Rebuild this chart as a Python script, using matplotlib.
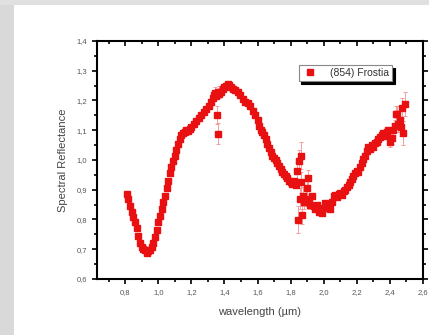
import matplotlib
matplotlib.use("Agg")
import matplotlib.pyplot as plt
from matplotlib.patches import Rectangle
from matplotlib.lines import Line2D
from matplotlib.ticker import MultipleLocator, FuncFormatter

# (854) Frostia reflectance spectrum
wavelength = [
    0.810, 0.820, 0.830, 0.840, 0.850, 0.860, 0.870, 0.880, 0.890, 0.900,
    0.910, 0.920, 0.930, 0.940, 0.950, 0.960, 0.970, 0.980, 0.990, 1.000,
    1.010, 1.020, 1.030, 1.040, 1.050, 1.060, 1.070, 1.080, 1.090, 1.100,
    1.110, 1.120, 1.130, 1.140, 1.150, 1.160, 1.170, 1.180, 1.190, 1.200,
    1.215, 1.230, 1.245, 1.260, 1.275, 1.290, 1.305, 1.320, 1.330, 1.340,
    1.350, 1.360, 1.370, 1.380, 1.390, 1.400, 1.410, 1.420, 1.430, 1.440,
    1.450, 1.465, 1.480, 1.495, 1.510, 1.525, 1.540, 1.555, 1.570, 1.585,
    1.600, 1.610, 1.620, 1.630, 1.640, 1.650, 1.660, 1.670, 1.680, 1.690,
    1.700, 1.710, 1.720, 1.730, 1.740, 1.750, 1.760, 1.770, 1.780, 1.790,
    1.800, 1.810, 1.820, 1.830, 1.920, 1.930, 1.940, 1.950, 1.960, 1.970,
    1.980, 1.990, 2.000, 2.010, 2.020, 2.030, 2.040, 2.050, 2.060, 2.070,
    2.080, 2.090, 2.100, 2.110, 2.120, 2.130, 2.140, 2.150, 2.160, 2.170,
    2.180, 2.190, 2.200, 2.210, 2.220, 2.230, 2.240, 2.250, 2.260, 2.270,
    2.280, 2.290, 2.300, 2.310, 2.320, 2.330, 2.340, 2.350, 2.360, 2.370,
    2.380, 2.390,
]
reflectance = [
    0.885, 0.868, 0.845, 0.825, 0.808, 0.790, 0.770, 0.745, 0.722, 0.706,
    0.702, 0.698, 0.688, 0.693, 0.698, 0.706, 0.722, 0.742, 0.765, 0.790,
    0.812, 0.835, 0.858, 0.880, 0.905, 0.930, 0.955, 0.978, 0.995, 1.015,
    1.035, 1.055, 1.072, 1.085, 1.090, 1.095, 1.100, 1.098, 1.105, 1.112,
    1.120, 1.132, 1.142, 1.150, 1.160, 1.172, 1.180, 1.195, 1.210, 1.220,
    1.215, 1.228, 1.222, 1.230, 1.238, 1.245, 1.250, 1.255, 1.252, 1.245,
    1.240, 1.235, 1.228, 1.218, 1.205, 1.195, 1.190, 1.180, 1.165, 1.150,
    1.135, 1.115, 1.100, 1.095, 1.085, 1.070, 1.055, 1.040, 1.028, 1.015,
    1.008, 1.000, 0.990, 0.980, 0.970, 0.960, 0.952, 0.945, 0.938, 0.930,
    0.926, 0.920, 0.930, 0.915, 0.850, 0.880, 0.845, 0.835, 0.850, 0.825,
    0.830, 0.822, 0.840, 0.855, 0.845, 0.850, 0.835, 0.860, 0.878, 0.882,
    0.875, 0.885, 0.890, 0.882, 0.895, 0.900, 0.908, 0.915, 0.925, 0.935,
    0.945, 0.955, 0.962, 0.960, 0.975, 0.990, 1.005, 1.015, 1.030, 1.045,
    1.038, 1.050, 1.045, 1.058, 1.062, 1.070, 1.078, 1.085, 1.090, 1.080,
    1.095, 1.100,
]
base_err = 0.008

# noisy points (telluric bands and red end) with larger error bars
noisy_wl = [1.355, 1.362, 1.345, 1.365, 1.840, 1.845, 1.850, 1.855, 1.860,
            1.865, 1.870, 1.875, 1.880, 1.890, 1.900, 1.905, 1.910,
            2.400, 2.410, 2.420, 2.430, 2.435, 2.445, 2.450, 2.460,
            2.470, 2.475, 2.480, 2.490]
noisy_refl = [1.150, 1.089, 1.225, 1.230, 0.962, 0.800, 0.995, 0.870, 1.015,
              0.925, 0.815, 0.880, 0.860, 0.870, 0.905, 0.938, 0.860,
              1.060, 1.075, 1.100, 1.115, 1.155, 1.155, 1.120, 1.135,
              1.110, 1.175, 1.090, 1.188]
noisy_err = [0.030, 0.035, 0.020, 0.020, 0.030, 0.045, 0.040, 0.035, 0.045,
             0.035, 0.030, 0.030, 0.025, 0.025, 0.030, 0.030, 0.025,
             0.015, 0.020, 0.020, 0.020, 0.025, 0.025, 0.025, 0.030,
             0.030, 0.035, 0.040, 0.040]

red = "#e81010"
err_col = "#f09090"

plt.rcParams["font.family"] = ["Liberation Sans", "DejaVu Sans"]

fig = plt.figure(figsize=(4.29, 3.35), dpi=100)
fig.patch.set_facecolor("white")
# grey screenshot edges
fig.patches.append(Rectangle((0, 0), 14 / 429, 1, transform=fig.transFigure,
                             facecolor="#d9d9d9", edgecolor="none", zorder=0))
fig.patches.append(Rectangle((0, 1 - 5 / 335), 1, 5 / 335, transform=fig.transFigure,
                             facecolor="#e0e0e0", edgecolor="none", zorder=0))

ax = fig.add_axes([97 / 429, 56 / 335, 326 / 429, 238 / 335])

ax.errorbar(wavelength, reflectance, yerr=base_err, fmt="s", color=red,
            ms=3.8, mec=red, ecolor=err_col, elinewidth=0.6, capsize=1.2,
            capthick=0.6)
ax.errorbar(noisy_wl, noisy_refl, yerr=noisy_err, fmt="s", color=red,
            ms=3.8, mec=red, ecolor=err_col, elinewidth=0.6, capsize=1.2,
            capthick=0.6)

ax.set_xlim(0.63, 2.6)
ax.set_ylim(0.6, 1.4)

ax.xaxis.set_major_locator(MultipleLocator(0.2))
ax.xaxis.set_minor_locator(MultipleLocator(0.1))
ax.yaxis.set_major_locator(MultipleLocator(0.1))
ax.yaxis.set_minor_locator(MultipleLocator(0.05))
comma = FuncFormatter(lambda v, p: f"{v:.1f}".replace(".", ","))
ax.xaxis.set_major_formatter(comma)
ax.yaxis.set_major_formatter(comma)

# bottom/left ticks out, top/right ticks in (Origin style)
ax.tick_params(which="both", direction="out", labelsize=5.5,
               labelcolor="#555555", width=1.2)
ax.tick_params(which="major", length=3.5)
ax.tick_params(which="minor", length=2.5)
ax.tick_params(axis="x", which="both", top=True)
ax.tick_params(axis="y", which="both", right=True)
for tk in ax.xaxis.get_major_ticks() + ax.xaxis.get_minor_ticks():
    tk.tick2line.set_marker(3)  # downward into the axes
for tk in ax.yaxis.get_major_ticks() + ax.yaxis.get_minor_ticks():
    tk.tick2line.set_marker(1)
for s in ax.spines.values():
    s.set_linewidth(1.5)

ax.set_xlabel("wavelength (µm)", fontsize=8, color="#444444", labelpad=8)
ax.set_ylabel("Spectral Reflectance", fontsize=8, color="#444444", labelpad=6)

handle = Line2D([], [], ls="none", marker="s", ms=3.8, color=red)
leg = ax.legend([handle], ["(854) Frostia"], loc="upper right",
                bbox_to_anchor=(0.905, 0.9), borderaxespad=0,
                fancybox=False, edgecolor="#888888", fontsize=7.5,
                handletextpad=1.2, handlelength=1.5, borderpad=0.3,
                shadow={"color": "black", "alpha": 1}, framealpha=1)
leg.get_frame().set_linewidth(0.8)
for t in leg.get_texts():
    t.set_color("#333333")

fig.savefig("out.png", dpi=100)
